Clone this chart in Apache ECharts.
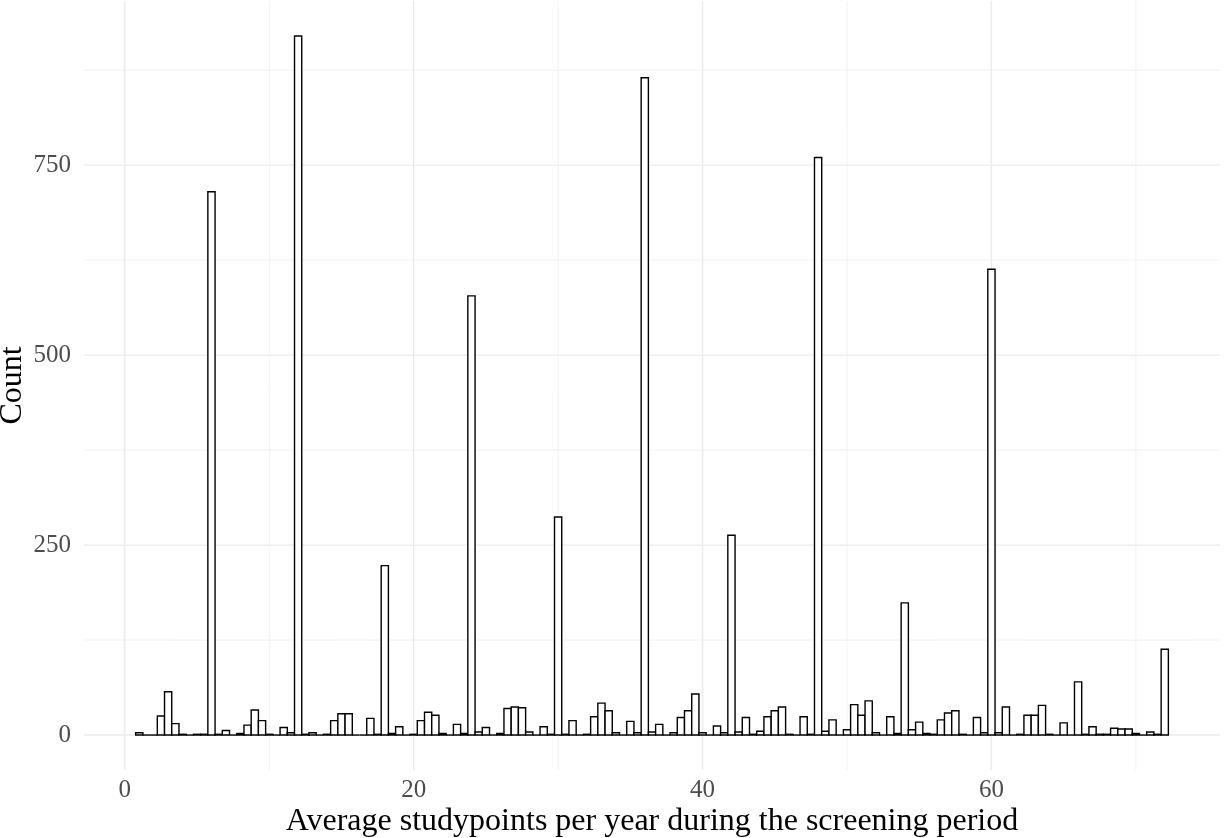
<!DOCTYPE html>
<html>
<head>
<meta charset="utf-8">
<script src="https://cdn.jsdelivr.net/npm/echarts@6/dist/echarts.min.js"></script>
<style>
  html, body { margin: 0; padding: 0; background: #fff; }
  #chart { width: 1225px; height: 838px; }
</style>
</head>
<body>
<div id="chart"></div>
<script>
// histogram bins: 0.5 wide, first bin centred on 1
const firstBin = 1;
const binWidth = 0.5;
const counts = [
  3, 0, 0, 25, 57, 15, 1, 0, 1, 1,          // 1 .. 5.5
  715, 1, 6, 0, 2, 13, 33, 19, 1, 0,        // 6 .. 10.5
  10, 3, 920, 1, 3, 0, 1, 19, 28, 28,       // 11 .. 15.5
  0, 0, 22, 1, 223, 2, 11, 0, 1, 19,        // 16 .. 20.5
  30, 26, 2, 0, 14, 2, 578, 4, 10, 0,       // 21 .. 25.5
  2, 35, 37, 36, 4, 0, 11, 1, 287, 1,       // 26 .. 30.5
  19, 0, 1, 24, 42, 32, 3, 0, 18, 3,        // 31 .. 35.5
  865, 4, 14, 0, 3, 23, 32, 54, 3, 0,       // 36 .. 40.5
  12, 3, 263, 4, 23, 1, 5, 24, 32, 37,      // 41 .. 45.5
  1, 0, 24, 1, 760, 5, 20, 0, 7, 40,        // 46 .. 50.5
  26, 45, 3, 0, 24, 2, 174, 7, 17, 2,       // 51 .. 55.5
  1, 20, 29, 32, 1, 0, 23, 3, 613, 3,       // 56 .. 60.5
  37, 0, 1, 26, 26, 39, 1, 0, 16, 0,        // 61 .. 65.5
  70, 1, 11, 1, 1, 9, 8, 8, 2, 0,           // 66 .. 70.5
  4, 1, 113                                 // 71 .. 72
];
const binCenters = counts.map((c, i) => firstBin + i * binWidth);

const xTicks = [0, 20, 40, 60];
const xMinorTicks = [10, 30, 50, 70];
const yTicks = [0, 250, 500, 750];
const yMinorTicks = [125, 375, 625, 875];

// ggplot-style 5% expansion of the data range
const xLo = binCenters[0] - binWidth / 2;
const xHi = binCenters[binCenters.length - 1] + binWidth / 2;
const yTop = Math.max(...counts);
const xMin = xLo - (xHi - xLo) * 0.05;
const xMax = xHi + (xHi - xLo) * 0.05;
const yMin = -yTop * 0.05;
const yMax = yTop * 1.05;

const gridLines = [];
xTicks.forEach(v => gridLines.push({ dir: 'x', v: v, major: true }));
xMinorTicks.forEach(v => gridLines.push({ dir: 'x', v: v, major: false }));
yTicks.forEach(v => gridLines.push({ dir: 'y', v: v, major: true }));
yMinorTicks.forEach(v => gridLines.push({ dir: 'y', v: v, major: false }));

const font = '"Liberation Serif", "DejaVu Serif", serif';
const chart = echarts.init(document.getElementById('chart'), null, { renderer: 'canvas' });

chart.setOption({
  animation: false,
  backgroundColor: '#fff',
  grid: { left: 84, right: 5, top: 1, bottom: 68, containLabel: false, outerBoundsMode: 'none' },
  xAxis: {
    type: 'value',
    min: xMin,
    max: xMax,
    name: 'Average studypoints per year during the screening period',
    nameLocation: 'middle',
    nameGap: 36,
    nameMoveOverlap: false,
    nameTextStyle: { fontFamily: font, fontSize: 32, color: '#000' },
    axisLine: { show: false },
    axisTick: { show: false },
    splitLine: { show: false },
    axisLabel: {
      customValues: xTicks,
      margin: 8,
      fontFamily: font,
      fontSize: 25,
      color: '#4d4d4d'
    }
  },
  yAxis: {
    type: 'value',
    min: yMin,
    max: yMax,
    name: 'Count',
    nameLocation: 'middle',
    nameGap: 55,
    nameMoveOverlap: false,
    nameTextStyle: { fontFamily: font, fontSize: 32, color: '#000' },
    axisLine: { show: false },
    axisTick: { show: false },
    splitLine: { show: false },
    axisLabel: {
      customValues: yTicks,
      margin: 13,
      fontFamily: font,
      fontSize: 25,
      color: '#4d4d4d'
    }
  },
  series: [
    {
      // panel grid lines, behind the bars
      type: 'custom',
      z: 1,
      silent: true,
      data: gridLines.map((g, i) => [i]),
      encode: { x: 0 },
      renderItem: (params, api) => {
        const g = gridLines[params.dataIndex];
        const cs = params.coordSys;
        const style = { stroke: '#ebebeb', lineWidth: g.major ? 1.4 : 0.7 };
        if (g.dir === 'x') {
          const px = api.coord([g.v, 0])[0];
          return { type: 'line', shape: { x1: px, y1: cs.y, x2: px, y2: cs.y + cs.height }, style };
        }
        const py = api.coord([0, g.v])[1];
        return { type: 'line', shape: { x1: cs.x, y1: py, x2: cs.x + cs.width, y2: py }, style };
      }
    },
    {
      type: 'custom',
      z: 2,
      data: binCenters.map((x, i) => [x, counts[i]]),
      encode: { x: 0, y: 1 },
      renderItem: (params, api) => {
        const x = api.value(0);
        const c = api.value(1);
        const p0 = api.coord([x - binWidth / 2, c]);
        const p1 = api.coord([x + binWidth / 2, 0]);
        const style = { fill: '#fff', stroke: '#000', lineWidth: 1.4 };
        if (c === 0) {
          return { type: 'line', shape: { x1: p0[0], y1: p1[1], x2: p1[0], y2: p1[1] }, style };
        }
        return {
          type: 'rect',
          shape: { x: p0[0], y: p0[1], width: p1[0] - p0[0], height: p1[1] - p0[1] },
          style
        };
      }
    }
  ]
});
</script>
</body>
</html>
